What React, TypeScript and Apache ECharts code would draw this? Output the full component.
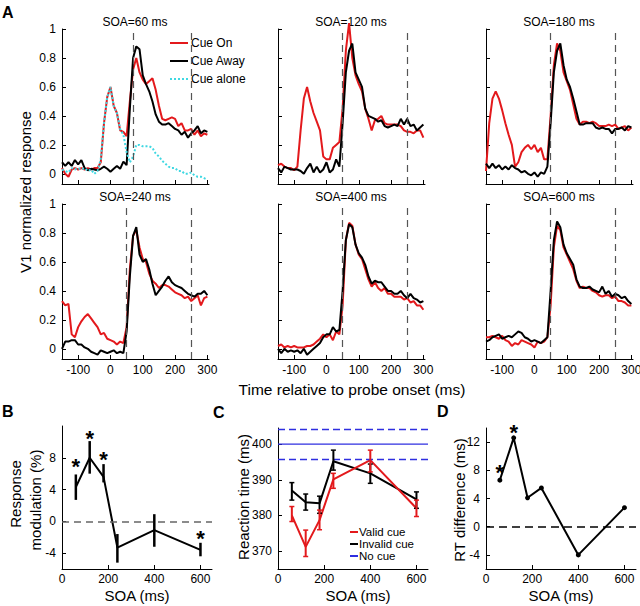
import React, { useEffect, useRef } from "react";
import * as echarts from "echarts";

// ---------- Panel A data ----------
const TIME = [-150, -140, -130, -120, -110, -100, -90, -80, -70, -60, -50, -40, -30, -20, -10, 0, 10, 20, 30, 40, 50, 60, 70, 80, 90, 100, 110, 120, 130, 140, 150, 160, 170, 180, 190, 200, 210, 220, 230, 240, 250, 260, 270, 280, 290, 300];

const SOA60_ON = [0.04, 0.0, -0.02, 0.03, 0.04, 0.03, 0.04, 0.03, 0.04, 0.03, 0.04, 0.04, 0.08, 0.35, 0.53, 0.6, 0.47, 0.42, 0.3, 0.29, 0.26, 0.5, 0.72, 0.8, 0.7, 0.65, 0.62, 0.64, 0.66, 0.58, 0.47, 0.38, 0.37, 0.38, 0.39, 0.38, 0.33, 0.35, 0.3, 0.3, 0.31, 0.27, 0.3, 0.26, 0.28, 0.27];
const SOA60_AWAY = [0.08, 0.055, 0.08, 0.055, 0.095, 0.065, 0.095, 0.04, 0.025, 0.035, 0.03, 0.025, 0.035, 0.05, 0.035, 0.015, 0.035, 0.055, 0.035, 0.085, 0.06, 0.45, 0.8, 0.88, 0.86, 0.68, 0.62, 0.57, 0.5, 0.41, 0.36, 0.34, 0.34, 0.35, 0.33, 0.31, 0.3, 0.27, 0.29, 0.25, 0.28, 0.3, 0.33, 0.28, 0.3, 0.29];
const SOA60_ALONE = [0.03, 0.02, 0.01, 0.04, 0.03, 0.04, 0.03, 0.04, 0.02, 0.03, 0.0, 0.02, 0.1, 0.35, 0.53, 0.6, 0.47, 0.42, 0.31, 0.27, 0.15, 0.08, 0.12, 0.2, 0.2, 0.19, 0.19, 0.19, 0.18, 0.14, 0.12, 0.09, 0.07, 0.05, 0.04, 0.04, 0.02, 0.02, 0.0, 0.0, 0.01, -0.01, -0.02, -0.02, -0.03, -0.04];

const SOA120_ON = [0.06, 0.07, 0.05, 0.04, 0.04, 0.025, 0.05, 0.3, 0.52, 0.6, 0.5, 0.42, 0.36, 0.3, 0.12, 0.1, 0.1, 0.18, 0.2, 0.22, 0.45, 0.85, 1.04, 0.8, 0.68, 0.62, 0.57, 0.45, 0.38, 0.3, 0.37, 0.38, 0.4, 0.35, 0.34, 0.34, 0.34, 0.34, 0.33, 0.3, 0.29, 0.29, 0.28, 0.3, 0.3, 0.25];
const SOA120_AWAY = [0.04, 0.01, 0.05, 0.04, 0.03, 0.03, 0.03, 0.02, 0.0, 0.04, 0.07, 0.01, 0.05, 0.01, 0.03, 0.08, 0.01, 0.03, 0.1, 0.05, 0.35, 0.7, 0.85, 0.9, 0.7, 0.65, 0.6, 0.45, 0.4, 0.39, 0.38, 0.36, 0.37, 0.33, 0.32, 0.33, 0.34, 0.33, 0.38, 0.34, 0.38, 0.33, 0.34, 0.3, 0.32, 0.34];

const SOA180_ON = [0.02, 0.35, 0.52, 0.57, 0.52, 0.44, 0.35, 0.27, 0.2, 0.05, 0.08, 0.15, 0.18, 0.2, 0.17, 0.2, 0.15, 0.18, 0.1, 0.1, 0.4, 0.75, 0.9, 0.85, 0.7, 0.64, 0.58, 0.48, 0.38, 0.34, 0.36, 0.36, 0.35, 0.36, 0.35, 0.33, 0.33, 0.33, 0.34, 0.33, 0.34, 0.31, 0.32, 0.33, 0.3, 0.32];
const SOA180_AWAY = [0.07, 0.04, 0.07, 0.04, 0.06, 0.03, 0.05, 0.03, 0.06, 0.04, 0.03, 0.01, 0.02, 0.0, -0.01, 0.01, -0.02, 0.01, 0.0, 0.05, 0.35, 0.7, 0.85, 0.9, 0.75, 0.65, 0.6, 0.52, 0.43, 0.34, 0.34, 0.35, 0.35, 0.35, 0.32, 0.31, 0.32, 0.31, 0.31, 0.28, 0.31, 0.31, 0.32, 0.3, 0.33, 0.32];

const SOA240_ON = [0.33, 0.3, 0.31, 0.1, 0.08, 0.15, 0.19, 0.22, 0.24, 0.21, 0.18, 0.15, 0.1, 0.11, 0.07, 0.06, 0.05, 0.03, 0.05, 0.04, 0.15, 0.55, 0.78, 0.82, 0.7, 0.62, 0.6, 0.52, 0.47, 0.45, 0.42, 0.44, 0.44, 0.43, 0.41, 0.39, 0.38, 0.37, 0.35, 0.36, 0.33, 0.35, 0.37, 0.3, 0.35, 0.36];
const SOA240_AWAY = [0.0, 0.05, 0.05, 0.06, 0.06, 0.03, 0.03, 0.01, 0.0, -0.02, -0.03, -0.04, -0.01, -0.02, -0.03, -0.02, -0.01, -0.03, -0.02, -0.03, 0.12, 0.5, 0.78, 0.84, 0.65, 0.6, 0.62, 0.55, 0.45, 0.37, 0.4, 0.43, 0.47, 0.5, 0.46, 0.44, 0.43, 0.42, 0.4, 0.38, 0.37, 0.36, 0.38, 0.38, 0.4, 0.37];

const SOA400_ON = [0.02, 0.03, 0.01, 0.02, 0.01, 0.02, 0.01, 0.01, 0.01, 0.02, 0.02, 0.03, 0.05, 0.07, 0.1, 0.08, 0.1, 0.06, 0.12, 0.1, 0.3, 0.75, 0.87, 0.85, 0.72, 0.65, 0.62, 0.55, 0.48, 0.43, 0.46, 0.42, 0.4, 0.42, 0.38, 0.38, 0.36, 0.36, 0.36, 0.34, 0.35, 0.32, 0.33, 0.3, 0.3, 0.27];
const SOA400_AWAY = [0.0, -0.03, 0.0, -0.02, -0.01, -0.02, -0.01, -0.03, 0.0, -0.04, -0.02, 0.0, 0.02, 0.04, 0.08, 0.1, 0.1, 0.15, 0.12, 0.13, 0.4, 0.75, 0.86, 0.84, 0.72, 0.66, 0.63, 0.58, 0.5, 0.45, 0.47, 0.46, 0.46, 0.43, 0.4, 0.4, 0.38, 0.38, 0.4, 0.37, 0.35, 0.38, 0.35, 0.34, 0.32, 0.33];

const SOA600_ON = [0.08, 0.08, 0.09, 0.08, 0.07, 0.09, 0.06, 0.05, 0.02, 0.04, 0.03, 0.06, 0.05, 0.04, 0.03, 0.01, 0.05, 0.04, 0.05, 0.08, 0.3, 0.7, 0.85, 0.82, 0.7, 0.65, 0.6, 0.55, 0.47, 0.42, 0.43, 0.42, 0.42, 0.4, 0.39, 0.37, 0.36, 0.37, 0.37, 0.35, 0.36, 0.33, 0.33, 0.32, 0.3, 0.3];
const SOA600_AWAY = [0.05, 0.06, 0.08, 0.09, 0.1, 0.07, 0.08, 0.09, 0.08, 0.1, 0.12, 0.11, 0.08, 0.07, 0.05, 0.06, 0.05, 0.04, 0.06, 0.08, 0.4, 0.75, 0.88, 0.84, 0.72, 0.66, 0.62, 0.58, 0.48, 0.43, 0.42, 0.42, 0.43, 0.41, 0.4, 0.39, 0.43, 0.38, 0.4, 0.36, 0.38, 0.37, 0.35, 0.36, 0.33, 0.31];

const A_TITLES = ["SOA=60 ms", "SOA=120 ms", "SOA=180 ms", "SOA=240 ms", "SOA=400 ms", "SOA=600 ms"];
const A_ON = [SOA60_ON, SOA120_ON, SOA180_ON, SOA240_ON, SOA400_ON, SOA600_ON];
const A_AWAY = [SOA60_AWAY, SOA120_AWAY, SOA180_AWAY, SOA240_AWAY, SOA400_AWAY, SOA600_AWAY];
const A_MARKS = [[70, 250], [50, 250], [50, 250], [50, 250], [50, 250], [50, 250]];
const A_XTICKS = [-100, 0, 100, 200, 300];
const A_YTICKS = [0, 0.2, 0.4, 0.6, 0.8, 1];

// ---------- Panels B, C, D data ----------
const SOA = [60, 120, 180, 240, 400, 600];
const MOD = [4.3, 8.0, 5.6, -3.3, -1.1, -3.6];
const MOD_LO = [2.7, 6.0, 4.9, -5.2, -3.2, -4.4];
const MOD_HI = [5.9, 10.1, 7.2, -1.6, 0.9, -2.7];
const MOD_STAR_X = [60, 120, 180, 600];
const MOD_STAR_Y = [7.5, 11.1, 8.4, -1.5];

const RT_VALID = [380.0, 371.2, 378.7, 390.1, 395.5, 382.0];
const RT_VALID_LO = [378.3, 368.5, 376.0, 387.6, 392.2, 379.7];
const RT_VALID_HI = [382.5, 375.9, 381.5, 391.8, 398.3, 384.3];
const RT_INVALID = [387.0, 383.7, 383.4, 395.2, 391.8, 384.5];
const RT_INVALID_LO = [384.3, 381.5, 380.6, 392.7, 389.0, 382.0];
const RT_INVALID_HI = [389.2, 386.0, 385.4, 398.3, 394.4, 386.6];
const RT_NOCUE = 400;
const RT_NOCUE_CI = [395.8, 404.2];

const RT_DIFF = [6.6, 12.6, 4.1, 5.5, -4.0, 2.7];
const DIFF_STAR_X = [60, 120];
const DIFF_STAR_Y = [8.4, 14.1];

const SOA_TICKS = [0, 200, 400, 600];
const B_YTICKS = [-4, 0, 4, 8];
const C_YTICKS = [370, 380, 390, 400];
const D_YTICKS = [-4, 0, 4, 8, 12];

const FONT = "Liberation Sans";
const RED = "#e3191c";
const CYAN = "#3fd8e2";
const BLUE = "#2f2fe0";
const DOTS = "path://M0 0h2v2H0zM4 0h2v2H4zM8 0h2v2H8zM12 0h2v2H12zM16 0h2v2H16z";

export default function App() {
  const ref = useRef<HTMLDivElement>(null);
  useEffect(() => {
    document.body.style.margin = "0";
    const chart = echarts.init(ref.current!, undefined, { renderer: "svg" });

    const aLeft = [62, 278, 486];
    const aTop = [29, 204];
    const grids: any[] = [];
    for (let i = 0; i < 6; i++) {
      grids.push({ left: aLeft[i % 3], top: aTop[Math.floor(i / 3)], width: 147, height: 155, containLabel: false, outerBoundsMode: "none" });
    }
    grids.push({ left: 62, top: 426, width: 150, height: 143, containLabel: false, outerBoundsMode: "none" });
    grids.push({ left: 278, top: 428, width: 150, height: 141, containLabel: false, outerBoundsMode: "none" });
    grids.push({ left: 486, top: 428, width: 150, height: 141, containLabel: false, outerBoundsMode: "none" });

    const axisLine = { show: true, onZero: false, lineStyle: { color: "#000", width: 1 } };
    const tick = (vals: number[]) => ({ show: true, inside: true, length: 4, customValues: vals, lineStyle: { color: "#000", width: 1 } });
    const label = (show: boolean, vals: number[], margin: number, size = 12) => ({
      show, customValues: vals, margin, color: "#000", fontSize: size, fontFamily: FONT,
    });

    const xAxes: any[] = [];
    const yAxes: any[] = [];
    for (let i = 0; i < 6; i++) {
      xAxes.push({ gridIndex: i, type: "value", min: -150, max: 305, axisLine, axisTick: tick(A_XTICKS), axisLabel: label(i >= 3, A_XTICKS, 5), splitLine: { show: false } });
      yAxes.push({ gridIndex: i, type: "value", min: -0.07, max: 1, axisLine, axisTick: tick(A_YTICKS), axisLabel: label(i % 3 === 0, A_YTICKS, 6), splitLine: { show: false } });
    }
    for (let g = 6; g < 9; g++) {
      xAxes.push({ gridIndex: g, type: "value", min: 0, max: 650, axisLine, axisTick: tick(SOA_TICKS), axisLabel: label(true, SOA_TICKS, 4), splitLine: { show: false } });
    }
    yAxes.push({ gridIndex: 6, type: "value", min: -6, max: 12, axisLine, axisTick: tick(B_YTICKS), axisLabel: label(true, B_YTICKS, 6), splitLine: { show: false } });
    yAxes.push({ gridIndex: 7, type: "value", min: 365, max: 404.5, axisLine, axisTick: tick(C_YTICKS), axisLabel: label(true, C_YTICKS, 6), splitLine: { show: false } });
    yAxes.push({ gridIndex: 8, type: "value", min: -6, max: 14, axisLine, axisTick: tick(D_YTICKS), axisLabel: label(true, D_YTICKS, 6), splitLine: { show: false } });

    const series: any[] = [];
    for (let i = 0; i < 6; i++) {
      series.push({
        type: "line", name: "Cue On", xAxisIndex: i, yAxisIndex: i, showSymbol: false, symbol: "none", clip: false, z: 2,
        data: TIME.map((t, k) => [t, A_ON[i][k]]),
        lineStyle: { color: RED, width: 2 }, itemStyle: { color: RED },
        markLine: {
          symbol: "none", silent: true, label: { show: false }, animation: false,
          lineStyle: { color: "#555", type: [7, 5], width: 1.2 },
          data: A_MARKS[i].map((x) => ({ xAxis: x })),
        },
      });
      series.push({
        type: "line", name: "Cue Away", xAxisIndex: i, yAxisIndex: i, showSymbol: false, symbol: "none", clip: false, z: 3,
        data: TIME.map((t, k) => [t, A_AWAY[i][k]]),
        lineStyle: { color: "#000", width: 2 }, itemStyle: { color: "#000" },
      });
      if (i === 0) {
        series.push({
          type: "line", name: "Cue alone", xAxisIndex: 0, yAxisIndex: 0, showSymbol: false, symbol: "none", clip: false, z: 4,
          data: TIME.map((t, k) => [t, SOA60_ALONE[k]]),
          lineStyle: { color: CYAN, width: 2, type: [2, 2] }, itemStyle: { color: CYAN },
        });
      }
    }

    const errorBars = (axis: number, lo: number[], hi: number[], color: string, cap: number, width: number) => ({
      type: "custom", xAxisIndex: axis, yAxisIndex: axis, z: 5, silent: true,
      data: SOA.map((x, k) => [x, lo[k], hi[k]]),
      encode: { x: 0, y: [1, 2] },
      renderItem: (_p: any, api: any) => {
        const x = api.value(0);
        const a = api.coord([x, api.value(1)]);
        const b = api.coord([x, api.value(2)]);
        const children: any[] = [
          { type: "line", shape: { x1: a[0], y1: a[1], x2: b[0], y2: b[1] }, style: { stroke: color, lineWidth: width } },
        ];
        if (cap > 0) {
          children.push({ type: "line", shape: { x1: a[0] - cap, y1: a[1], x2: a[0] + cap, y2: a[1] }, style: { stroke: color, lineWidth: 1.5 } });
          children.push({ type: "line", shape: { x1: b[0] - cap, y1: b[1], x2: b[0] + cap, y2: b[1] }, style: { stroke: color, lineWidth: 1.5 } });
        }
        return { type: "group", children };
      },
    });

    const stars = (axis: number, xs: number[], ys: number[]) => ({
      type: "custom", xAxisIndex: axis, yAxisIndex: axis, z: 6, silent: true,
      data: xs.map((x, k) => [x, ys[k]]),
      renderItem: (_p: any, api: any) => {
        const p = api.coord([api.value(0), api.value(1)]);
        return {
          type: "text", x: p[0], y: p[1] + 5,
          style: { text: "*", fontSize: 22, fontWeight: "bold", fontFamily: FONT, fill: "#000", align: "center", verticalAlign: "middle" },
        };
      },
    });

    // Panel B
    series.push({
      type: "line", xAxisIndex: 6, yAxisIndex: 6, showSymbol: false, symbol: "none", z: 4,
      data: SOA.map((x, k) => [x, MOD[k]]),
      lineStyle: { color: "#000", width: 2 },
      markLine: {
        symbol: "none", silent: true, label: { show: false }, animation: false,
        lineStyle: { color: "#666", type: [7, 5], width: 1.5 }, data: [{ yAxis: 0 }],
      },
    });
    series.push(errorBars(6, MOD_LO, MOD_HI, "#000", 0, 2.5));
    series.push(stars(6, MOD_STAR_X, MOD_STAR_Y));

    // Panel C
    series.push({
      type: "line", name: "No cue", xAxisIndex: 7, yAxisIndex: 7, showSymbol: false, symbol: "none", z: 2,
      data: [[0, RT_NOCUE], [650, RT_NOCUE]],
      lineStyle: { color: BLUE, width: 1.2 }, itemStyle: { color: BLUE },
      markLine: {
        symbol: "none", silent: true, label: { show: false }, animation: false,
        lineStyle: { color: BLUE, type: [7, 4], width: 1.3 },
        data: RT_NOCUE_CI.map((v) => ({ yAxis: v, lineStyle: { color: BLUE, type: [7, 4], width: 1.3 } })),
      },
    });
    series.push({
      type: "line", name: "Invalid cue", xAxisIndex: 7, yAxisIndex: 7, showSymbol: false, symbol: "none", z: 3,
      data: SOA.map((x, k) => [x, RT_INVALID[k]]),
      lineStyle: { color: "#000", width: 2 }, itemStyle: { color: "#000" },
    });
    series.push(errorBars(7, RT_INVALID_LO, RT_INVALID_HI, "#000", 2.5, 2));
    series.push({
      type: "line", name: "Valid cue", xAxisIndex: 7, yAxisIndex: 7, showSymbol: false, symbol: "none", z: 4,
      data: SOA.map((x, k) => [x, RT_VALID[k]]),
      lineStyle: { color: RED, width: 2 }, itemStyle: { color: RED },
    });
    series.push(errorBars(7, RT_VALID_LO, RT_VALID_HI, RED, 2.5, 2));

    // Panel D
    series.push({
      type: "line", xAxisIndex: 8, yAxisIndex: 8, showSymbol: true, symbol: "circle", symbolSize: 5, z: 4,
      data: SOA.map((x, k) => [x, RT_DIFF[k]]),
      lineStyle: { color: "#000", width: 2 }, itemStyle: { color: "#000" },
      markLine: {
        symbol: "none", silent: true, label: { show: false }, animation: false,
        lineStyle: { color: "#000", type: [8, 5], width: 1.5 }, data: [{ yAxis: 0 }],
      },
    });
    series.push(stars(8, DIFF_STAR_X, DIFF_STAR_Y));

    const txt = (text: string, x: number, y: number, size: number, opts: any = {}) => ({
      type: "text", x, y, rotation: opts.rotation || 0, silent: true,
      style: {
        text, fontSize: size, fontFamily: FONT, fontWeight: opts.bold ? "bold" : "normal", fill: "#000",
        align: opts.align || "center", verticalAlign: "middle",
      },
    });
    const titleX = [135, 351, 559];
    const titleY = [22, 197];
    const graphics: any[] = A_TITLES.map((t, i) => txt(t, titleX[i % 3], titleY[Math.floor(i / 3)], 12));
    graphics.push(txt("A", 2, 12, 16, { bold: true, align: "left" }));
    graphics.push(txt("B", 2, 411, 16, { bold: true, align: "left" }));
    graphics.push(txt("C", 213, 412, 16, { bold: true, align: "left" }));
    graphics.push(txt("D", 437, 411, 16, { bold: true, align: "left" }));
    graphics.push(txt("V1 normalized response", 25, 192, 15, { rotation: Math.PI / 2 }));
    graphics.push(txt("Time relative to probe onset (ms)", 352, 389, 15.5));
    graphics.push(txt("Response", 15, 494, 15, { rotation: Math.PI / 2 }));
    graphics.push(txt("modulation (%)", 35, 500, 15, { rotation: Math.PI / 2 }));
    graphics.push(txt("Reaction time (ms)", 243, 497, 15, { rotation: Math.PI / 2 }));
    graphics.push(txt("RT difference (ms)", 459, 500, 15, { rotation: Math.PI / 2 }));
    graphics.push(txt("SOA (ms)", 137, 595, 15));
    graphics.push(txt("SOA (ms)", 358, 595, 15));
    graphics.push(txt("SOA (ms)", 561, 595, 15));

    chart.setOption({
      animation: false,
      textStyle: { fontFamily: FONT, color: "#000" },
      grid: grids,
      xAxis: xAxes,
      yAxis: yAxes,
      legend: [
        {
          data: [
            { name: "Cue On", icon: "rect" },
            { name: "Cue Away", icon: "rect" },
            { name: "Cue alone", icon: DOTS },
          ],
          orient: "vertical", left: 165, top: 31,
          itemWidth: 18, itemHeight: 2, itemGap: 4, selectedMode: false,
          textStyle: { fontSize: 12, fontFamily: FONT, color: "#000", lineHeight: 14, padding: [0, 0, 0, -2] },
        },
        {
          data: [
            { name: "Valid cue", icon: "rect" },
            { name: "Invalid cue", icon: "rect" },
            { name: "No cue", icon: "rect" },
          ],
          orient: "vertical", left: 345, top: 521,
          itemWidth: 8, itemHeight: 2, itemGap: 0, selectedMode: false,
          textStyle: { fontSize: 11.5, fontFamily: FONT, color: "#000", lineHeight: 12, padding: [0, 0, 0, -4] },
        },
      ],
      series,
      graphic: graphics,
    });
    return () => chart.dispose();
  }, []);
  return <div ref={ref} style={{ width: 640, height: 606 }} />;
}
